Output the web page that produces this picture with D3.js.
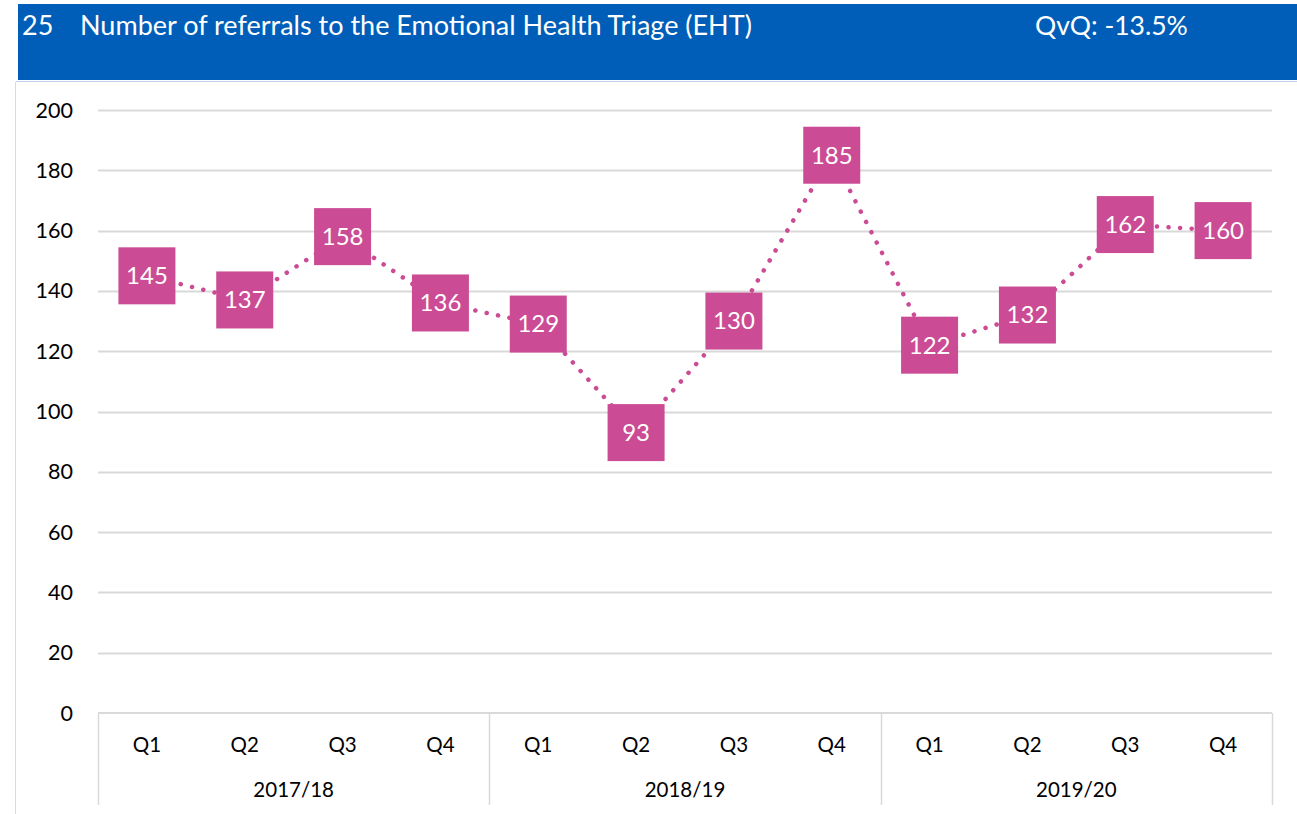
<!DOCTYPE html>
<html>
<head>
<meta charset="utf-8">
<script src="https://cdn.jsdelivr.net/npm/d3@7"></script>
<style>
  body { margin: 0; background: #fff; }
  svg { display: block; font-family: Lato, "Open Sans", sans-serif; }
</style>
</head>
<body>
<svg id="chart" width="1297" height="814"></svg>
<script>
// chart data
var years = ['2017/18', '2018/19', '2019/20'];
var quarters = ['Q1', 'Q2', 'Q3', 'Q4'];
var referrals = [145, 137, 158, 136, 129, 93, 130, 185, 122, 132, 162, 160];
var yTicks = [0, 20, 40, 60, 80, 100, 120, 140, 160, 180, 200];
var titleNumber = '25';
var titleText = 'Number of referrals to the Emotional Health Triage (EHT)';
var changeText = 'QvQ: -13.5%';

var svg = d3.select('#chart');

var pink = '#CB4B94',
  blue = '#005EB8',
  grid = '#D9D9D9';

// header band
svg.append('rect')
  .attr('x', 18).attr('y', 4)
  .attr('width', 1279).attr('height', 76)
  .attr('fill', blue);
svg.append('line')
  .attr('x1', 16).attr('x2', 1297)
  .attr('y1', 81.5).attr('y2', 81.5)
  .attr('stroke', '#BDD3EC').attr('stroke-width', 1);
svg.append('line')
  .attr('x1', 15.5).attr('x2', 15.5)
  .attr('y1', 82).attr('y2', 814)
  .attr('stroke', grid);

svg.append('text')
  .attr('x', 22).attr('y', 35)
  .attr('fill', '#fff').attr('font-size', 27)
  .text(titleNumber);
svg.append('text')
  .attr('x', 80).attr('y', 35)
  .attr('fill', '#fff').attr('font-size', 27)
  .text(titleText);
svg.append('text')
  .attr('x', 1035).attr('y', 35)
  .attr('fill', '#fff').attr('font-size', 26.5)
  .text(changeText);

// scales
var plotLeft = 98, plotRight = 1272, plotTop = 110, plotBottom = 713;

var labels = [];
years.forEach(function(yr) {
  quarters.forEach(function(q) { labels.push(yr + ' ' + q); });
});

var x = d3.scaleBand()
  .domain(labels)
  .range([plotLeft, plotRight]);

var y = d3.scaleLinear()
  .domain([0, 200])
  .range([plotBottom, plotTop]);

// gridlines
svg.append('g')
  .selectAll('line')
  .data(yTicks.filter(function(d) { return d > 0; }))
  .enter().append('line')
  .attr('x1', plotLeft).attr('x2', plotRight)
  .attr('y1', function(d) { return Math.round(y(d)) + 0.5; })
  .attr('y2', function(d) { return Math.round(y(d)) + 0.5; })
  .attr('stroke', grid).attr('stroke-width', 2);

// y labels
svg.append('g')
  .selectAll('text')
  .data(yTicks)
  .enter().append('text')
  .attr('x', 73)
  .attr('y', function(d) { return y(d); })
  .attr('dy', '0.35em')
  .attr('text-anchor', 'end')
  .attr('font-size', 21.5)
  .attr('fill', '#000')
  .text(String);

// x axis: baseline, group separators and labels
svg.append('line')
  .attr('x1', plotLeft).attr('x2', plotRight)
  .attr('y1', plotBottom).attr('y2', plotBottom)
  .attr('stroke', grid).attr('stroke-width', 2);

var seps = [0, 4, 8, 12].map(function(i) {
  return i < 12 ? x(labels[i]) : plotRight;
});
svg.append('g')
  .selectAll('line')
  .data(seps)
  .enter().append('line')
  .attr('x1', function(d) { return Math.round(d) + 0.5; })
  .attr('x2', function(d) { return Math.round(d) + 0.5; })
  .attr('y1', plotBottom).attr('y2', 805)
  .attr('stroke', grid).attr('stroke-width', 1.5);

svg.append('g')
  .selectAll('text')
  .data(labels)
  .enter().append('text')
  .attr('x', function(d) { return x(d) + x.bandwidth() / 2; })
  .attr('y', 752)
  .attr('text-anchor', 'middle')
  .attr('font-size', 20.5)
  .text(function(d) { return d.split(' ')[1]; });

svg.append('g')
  .selectAll('text')
  .data(years)
  .enter().append('text')
  .attr('x', function(d, i) { return (seps[i] + seps[i + 1]) / 2; })
  .attr('y', 797)
  .attr('text-anchor', 'middle')
  .attr('font-size', 20.5)
  .text(String);

// dotted line
var line = d3.line()
  .x(function(d, i) { return x(labels[i]) + x.bandwidth() / 2; })
  .y(function(d) { return y(d); });

svg.append('path')
  .datum(referrals)
  .attr('d', line)
  .attr('fill', 'none')
  .attr('stroke', pink)
  .attr('stroke-width', 4.5)
  .attr('stroke-linecap', 'round')
  .attr('stroke-dasharray', '0.1 11.5');

// markers with labels
var size = 57;
var pts = svg.append('g')
  .selectAll('g')
  .data(referrals)
  .enter().append('g')
  .attr('transform', function(d, i) {
    return 'translate(' + (x(labels[i]) + x.bandwidth() / 2) + ',' + y(d) + ')';
  });

pts.append('rect')
  .attr('x', -size / 2).attr('y', -size / 2)
  .attr('width', size).attr('height', size)
  .attr('fill', pink);

pts.append('text')
  .attr('text-anchor', 'middle')
  .attr('dy', '0.35em')
  .attr('fill', '#fff')
  .attr('font-size', 24)
  .text(String);
</script>
</body>
</html>
